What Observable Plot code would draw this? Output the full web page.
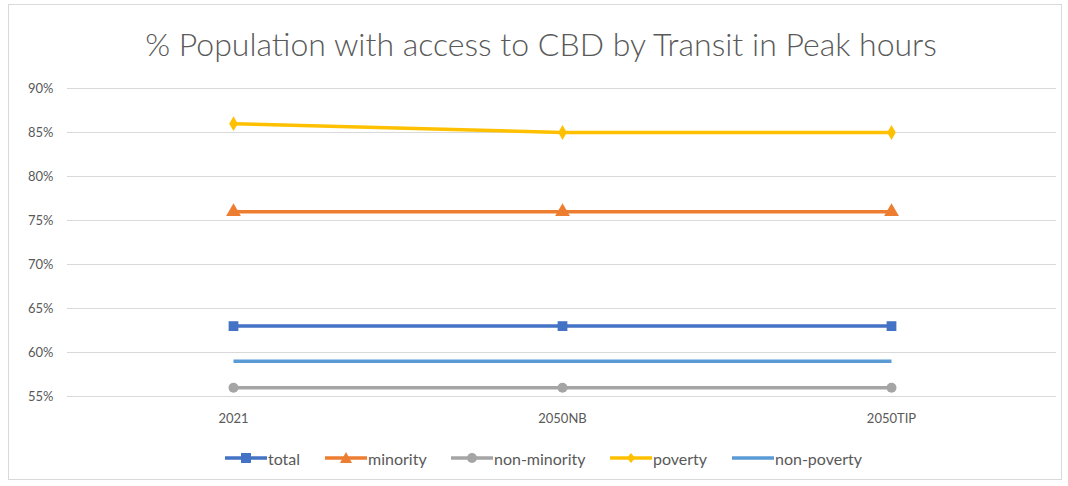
<!DOCTYPE html>
<html>
<head>
<meta charset="utf-8">
<script src="https://cdn.jsdelivr.net/npm/d3@7"></script>
<script src="https://cdn.jsdelivr.net/npm/@observablehq/plot@0.6"></script>
<style>
  html, body { margin: 0; padding: 0; background: #fff; }
  #wrap { position: relative; width: 1068px; height: 486px; overflow: hidden; font-family: Lato, "Liberation Sans", sans-serif; }
  #frame { position: absolute; left: 8px; top: 4px; width: 1054px; height: 476px; border: 1px solid #d9d9d9; box-sizing: border-box; }
  #title { position: absolute; left: 0; width: 1082px; top: 25px; text-align: center; font-size: 32px; font-weight: 300; color: #595959; line-height: 38px; white-space: nowrap; }
  #chart { position: absolute; left: 0; top: 70px; }
  #legend { position: absolute; top: 448px; left: 0; width: 1068px; height: 20px; font-size: 16px; color: #595959; }
  .item { position: absolute; top: 0; display: flex; align-items: center; height: 20px; }
  .item svg { margin-right: 1px; }
</style>
</head>
<body>
<div id="wrap">
  <div id="frame"></div>
  <div id="title">% Population with access to CBD by Transit in Peak hours</div>
  <div id="chart"></div>
  <div id="legend"></div>
</div>
<script>
const categories = ["2021", "2050NB", "2050TIP"];
const seriesNames = ["total", "minority", "non-minority", "poverty", "non-poverty"];
const total = [0.63, 0.63, 0.63];
const minority = [0.76, 0.76, 0.76];
const nonMinority = [0.56, 0.56, 0.56];
const poverty = [0.86, 0.85, 0.85];
const nonPoverty = [0.59, 0.59, 0.59];
const yTicks = [0.55, 0.60, 0.65, 0.70, 0.75, 0.80, 0.85, 0.90];

const colors = ["#4472C4", "#ED7D31", "#A5A5A5", "#FFC000", "#5B9BD5"];
const symbols = ["square", "triangle", "circle", "diamond", null];
const symbolR = [5.5, 5.5, 5, 4.5, 0];
const values = [total, minority, nonMinority, poverty, nonPoverty];

const rows = [];
seriesNames.forEach((s, i) => {
  categories.forEach((c, j) => rows.push({series: s, cat: c, value: values[i][j]}));
});

const marks = [
  Plot.gridY(yTicks, {stroke: "#d9d9d9", strokeOpacity: 1, strokeWidth: 1})
];
seriesNames.forEach((s, i) => {
  const d = rows.filter(r => r.series === s);
  marks.push(Plot.line(d, {x: "cat", y: "value", stroke: colors[i], strokeWidth: 3.5, strokeLinecap: "butt"}));
  if (symbols[i]) {
    marks.push(Plot.dot(d, {x: "cat", y: "value", fill: colors[i], stroke: "none", symbol: symbols[i], r: symbolR[i]}));
  }
});
marks.push(Plot.axisY(yTicks, {tickFormat: d3.format(".0%"), tickSize: 0, tickPadding: 14, fontSize: 13, fill: "#595959"}));
marks.push(Plot.axisX({tickSize: 0, tickPadding: 17, fontSize: 13, fill: "#595959"}));

const chart = Plot.plot({
  width: 1068,
  height: 370,
  marginLeft: 67,
  marginRight: 12,
  marginTop: 18,
  marginBottom: 44,
  style: {fontFamily: "Lato, 'Liberation Sans', sans-serif", background: "transparent", color: "#595959"},
  x: {type: "point", domain: categories, padding: 0.5, label: null},
  y: {domain: [0.55, 0.90], label: null},
  marks
});
document.getElementById("chart").appendChild(chart);

const legendX = [225, 325, 451, 610, 732];
const legend = document.getElementById("legend");
seriesNames.forEach((s, i) => {
  const item = document.createElement("div");
  item.className = "item";
  item.style.left = legendX[i] + "px";
  const w = 42;
  let sym = "";
  const cx = w / 2, cy = 10;
  if (symbols[i] === "square") sym = `<rect x="${cx-5}" y="${cy-5}" width="10" height="10" fill="${colors[i]}"/>`;
  if (symbols[i] === "triangle") sym = `<path d="M${cx},${cy-6}L${cx+6},${cy+5}L${cx-6},${cy+5}Z" fill="${colors[i]}"/>`;
  if (symbols[i] === "circle") sym = `<circle cx="${cx}" cy="${cy}" r="5" fill="${colors[i]}"/>`;
  if (symbols[i] === "diamond") sym = `<path d="M${cx},${cy-5}L${cx+4},${cy}L${cx},${cy+5}L${cx-4},${cy}Z" fill="${colors[i]}"/>`;
  item.innerHTML = `<svg width="${w}" height="20"><line x1="0" x2="${w}" y1="10" y2="10" stroke="${colors[i]}" stroke-width="3.5" stroke-linecap="round"/>${sym}</svg><span>${s}</span>`;
  legend.appendChild(item);
});
</script>
</body>
</html>
